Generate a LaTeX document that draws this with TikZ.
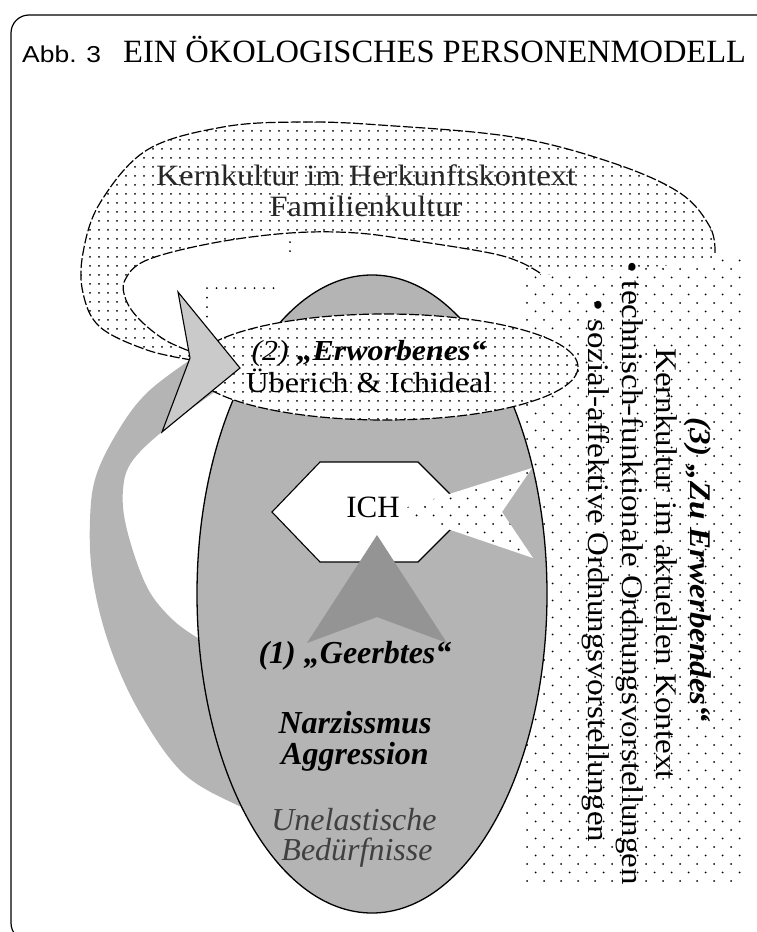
\documentclass[tikz,border=0pt]{standalone}
\usepackage{fontspec}
\setmainfont{Liberation Serif}
\newfontfamily\wideserif{Liberation Serif}[FakeStretch=1.1]
\newfontfamily\titlesans{Liberation Sans}[FakeStretch=1.15]
\usetikzlibrary{patterns.meta}
\definecolor{ellgray}{RGB}{180,180,180}
\definecolor{arrgray}{RGB}{202,202,202}
\definecolor{darkgray2}{RGB}{148,148,148}
\tikzdeclarepattern{
  name=densedots, type=uncolored,
  bottom left={(-1.5pt,-1.5pt)}, top right={(7.5pt,7.5pt)},
  tile size={(9pt,9pt)},
  code={\pgfpathcircle{\pgfpointorigin}{1pt}\pgfusepath{fill}}
}
\tikzdeclarepattern{
  name=sparsedots, type=uncolored,
  bottom left={(-1.5pt,-1.5pt)}, top right={(15.5pt,15.5pt)},
  tile size={(17pt,17pt)},
  code={\pgfpathcircle{\pgfpointorigin}{1pt}\pgfusepath{fill}
        \pgfpathcircle{\pgfpoint{8.5pt}{8.5pt}}{1pt}\pgfusepath{fill}}
}
\tikzset{
  txt/.style={inner sep=0pt, anchor=base},
  dashline/.style={line width=1.2pt, dash pattern=on 10pt off 2.5pt},
  solidline/.style={line width=1.2pt},
  dotfill/.style={fill=white, postaction={pattern=densedots}},
  sparsefill/.style={fill=white, postaction={pattern=sparsedots}},
}
\begin{document}
\begin{tikzpicture}[x=1pt,y=-1pt]
\useasboundingbox (0,0) rectangle (757,932);
\clip (0,0) rectangle (757,932);
% frame
\draw[solidline, rounded corners=18pt] (11,15) rectangle (800,941);
% title
\node[txt, anchor=base west] (abb) at (22,62) {\titlesans\fontsize{23}{26}\selectfont Abb. 3};
\node[txt, anchor=base west] (title) at (123,62) {\fontsize{32.5}{38}\selectfont EIN ÖKOLOGISCHES PERSONENMODELL};
% region (3)
\path[pattern=sparsedots] (522,258) rectangle (745,882);
% loop band
\path[dotfill]
  plot[smooth, tension=0.6] coordinates {(192,360) (147,350) (100,327) (83,293) (83,253) (100,203) (147,150) (223,127) (300,122) (380,125) (513,137) (613,163) (680,193) (710,227) (715,253)}
  -- (715,262) -- (540,275)
  -- plot[smooth, tension=0.6] coordinates {(540,273) (520,262) (490,253) (423,242) (357,233) (290,233) (213,243) (147,260) (125,280) (126,300) (140,320) (165,340) (192,352)}
  -- cycle;
\draw[dashline] plot[smooth, tension=0.6] coordinates {(192,360) (147,350) (100,327) (83,293) (83,253) (100,203) (147,150) (223,127) (300,122) (380,125) (513,137) (613,163) (680,193) (710,227) (715,253)};
\draw[dashline] plot[smooth, tension=0.6] coordinates {(540,273) (520,262) (490,253) (423,242) (357,233) (290,233) (213,243) (147,260) (125,280) (126,300) (140,320) (165,340) (192,352)};
% stray dots in the hole
\foreach \xx in {207,216.5,226,235.5,245,254.5,264,273.5} \fill (\xx,288) circle (1pt);
\foreach \yy in {297.5,307,316.5} \fill (207,\yy) circle (1pt);
\foreach \yy in {242,251} \fill (290,\yy) circle (1pt);
% crescent
\fill[ellgray] plot[smooth, tension=0.6] coordinates {(190,360) (150,390) (123,423) (97,473) (90,520) (93,580) (110,647) (140,713) (183,773) (237,805) (262,812)}
  -- (300,760) -- (260,640)
  -- plot[smooth, tension=0.6] coordinates {(201,640) (173,620) (147,587) (127,530) (123,490) (133,460) (170,425) (216,391)}
  -- (205,370) -- cycle;
% main ellipse
\draw[line width=1.3pt, fill=ellgray] (372,594) ellipse [x radius=175pt, y radius=319pt];
% ellipse (2)
\path[dotfill] (385,367) ellipse [x radius=193pt, y radius=53pt];
\draw[dashline] (385,367) ellipse [x radius=193pt, y radius=53pt];
% arrowhead into (2)
\draw[line width=1.1pt, fill=arrgray, line join=miter] (178,292) -- (240,368) -- (162,432) -- (190,358) -- cycle;
% ICH hexagon
\draw[line width=1.1pt, fill=white] (272,512) -- (320,462) -- (418,462) -- (468,512) -- (418,562) -- (320,562) -- cycle;
% dark arrow up
\fill[darkgray2] (377,535) -- (447,643) -- (377,617) -- (307,643) -- cycle;
% dotted arrow from (3)
\path[sparsefill] (395,511) -- (532,468) -- (502,512) -- (533,558) -- cycle;
% texts
\node[txt, text=black!85] (kern) at (366,185) {\wideserif\fontsize{29.5}{34}\selectfont Kernkultur im Herkunftskontext};
\node[txt, text=black!85] (fam) at (366,216) {\wideserif\fontsize{29.5}{34}\selectfont Familienkultur};
\node[txt] (erw) at (369,360) {\wideserif\fontsize{29}{34}\selectfont\textit{(2)} \textbf{\textit{„Erworbenes“}}};
\node[txt] (ueb) at (369,392) {\wideserif\fontsize{29}{34}\selectfont Überich \& Ichideal};
\node[txt] (ich) at (373,517) {\fontsize{31}{36}\selectfont ICH};
\node[txt] (geerbt) at (355,663) {\fontsize{32}{36}\selectfont\bfseries\itshape (1) „Geerbtes“};
\node[txt] (narz) at (355,733) {\fontsize{32}{36}\selectfont\bfseries\itshape Narzissmus};
\node[txt] (aggr) at (355,764) {\fontsize{32}{36}\selectfont\bfseries\itshape Aggression};
\node[txt, text=black!75] (unel) at (354,830) {\fontsize{32}{36}\selectfont\itshape Unelastische};
\node[txt, text=black!75] (bed) at (357,860) {\fontsize{32}{36}\selectfont\itshape Bedürfnisse};
\node[txt, rotate=-90] (zu) at (690,570) {\wideserif\fontsize{30}{34}\selectfont\bfseries\itshape (3) „Zu Erwerbendes“};
\node[txt, rotate=-90] (kernakt) at (656,564) {\wideserif\fontsize{30}{34}\selectfont Kernkultur im aktuellen Kontext};
\node[txt, rotate=-90] (tech) at (622,573) {\wideserif\fontsize{30}{34}\selectfont\textbullet{} technisch-funktionale Ordnungsvorstellungen};
\node[txt, rotate=-90] (sozial) at (588,571) {\wideserif\fontsize{30}{34}\selectfont\textbullet{} sozial-affektive Ordnungsvorstellungen};
\end{tikzpicture}
\end{document}
